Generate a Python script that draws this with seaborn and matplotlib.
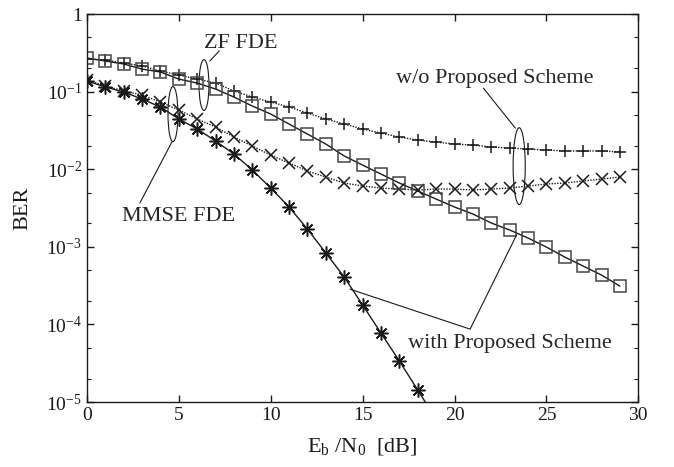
import numpy as np
import pandas as pd
import matplotlib
matplotlib.use("Agg")
import matplotlib.pyplot as plt
from matplotlib.patches import Ellipse
import seaborn as sns

# Eb/N0 [dB]
snr_zf = list(range(0, 30))
snr_mmse = list(range(0, 30))
snr_mmse_prop = list(range(0, 20))

# ZF FDE with proposed scheme (squares, solid)
ber_zf_prop = [0.271, 0.248, 0.227, 0.195, 0.179, 0.145, 0.129, 0.108, 0.0851, 0.0652,
               0.0514, 0.0382, 0.0284, 0.0211, 0.0148, 0.0113, 0.00867, 0.00664, 0.00524, 0.00413,
               0.00326, 0.00265, 0.00203, 0.00165, 0.00130, 0.000994, 0.000739, 0.000566, 0.000433, 0.000312]
# ZF FDE w/o proposed scheme (plus, dotted)
ber_zf = [0.263, 0.255, 0.234, 0.214, 0.184, 0.164, 0.145, 0.129, 0.102, 0.0851,
          0.0734, 0.0633, 0.0530, 0.0444, 0.0382, 0.0330, 0.0292, 0.0260, 0.0238, 0.0224,
          0.0211, 0.0205, 0.0193, 0.0188, 0.0182, 0.0177, 0.0172, 0.0172, 0.0172, 0.0167]
# MMSE FDE w/o proposed scheme (x, dotted)
ber_mmse = [0.141, 0.118, 0.102, 0.0904, 0.0734, 0.0579, 0.0444, 0.0350, 0.0260, 0.0199,
            0.0152, 0.0120, 0.00948, 0.00793, 0.00664, 0.00608, 0.00573, 0.00556, 0.00540, 0.00556,
            0.00556, 0.00540, 0.00556, 0.00573, 0.00608, 0.00645, 0.00664, 0.00705, 0.00748, 0.00793]
# MMSE FDE with proposed scheme (asterisk, solid)
ber_mmse_prop = [0.137, 0.115, 0.0988, 0.0803, 0.0633, 0.0444, 0.0330, 0.0231, 0.0157, 0.00977,
                 0.00573, 0.00326, 0.00169, 0.000832, 0.000408, 0.000178, 7.75e-5, 3.38e-5, 1.43e-5, 6.0e-6]

x_ticks = [0, 5, 10, 15, 20, 25, 30]
y_ticks = [1e-5, 1e-4, 1e-3, 1e-2, 1e-1, 1]
y_tick_labels = ["10$^{-5}$", "10$^{-4}$", "10$^{-3}$", "10$^{-2}$", "10$^{-1}$", "1"]

sns.set_theme(style="ticks")
plt.rcParams["font.family"] = ["Liberation Serif", "DejaVu Serif"]
plt.rcParams["mathtext.fontset"] = "custom"
plt.rcParams["mathtext.rm"] = "Liberation Serif"
plt.rcParams["mathtext.it"] = "Liberation Serif:italic"
plt.rcParams["mathtext.default"] = "regular"

fig = plt.figure(figsize=(6.74, 4.67), dpi=100)
ax = fig.add_axes([0.129, 0.139, 0.818, 0.831])

dotted = (0, (1, 1))
series = [
    (snr_zf, ber_zf, "+", dotted, 9, "k"),
    (snr_mmse, ber_mmse, "x", dotted, 8, "k"),
    (snr_zf, ber_zf_prop, "s", "-", 8, "#444444"),
    (snr_mmse_prop, ber_mmse_prop, (8, 2, 0), "-", 10, "k"),
]
for xs, ys, mk, ls, ms, mec in series:
    df = pd.DataFrame({"snr": xs, "ber": ys})
    sns.lineplot(data=df, x="snr", y="ber", ax=ax, color="k", linestyle=ls,
                 linewidth=1.0, marker=mk, markersize=ms, markerfacecolor="none",
                 markeredgecolor=mec, markeredgewidth=1.1, estimator=None)

ax.set_yscale("log")
ax.set_xlim(0, 30)
ax.set_ylim(1e-5, 1)
ax.set_xticks(x_ticks)
ax.set_yticks(y_ticks)
ax.set_yticklabels(y_tick_labels)
ax.yaxis.set_minor_locator(matplotlib.ticker.LogLocator(base=10, subs=[2, 5]))
ax.yaxis.set_minor_formatter(matplotlib.ticker.NullFormatter())
ax.tick_params(which="both", direction="in", top=True, right=True, labelsize=14,
               color="k", labelcolor="k")
ax.tick_params(which="major", length=5, width=1)
ax.tick_params(which="minor", length=3, width=0.8)
for sp in ax.spines.values():
    sp.set_linewidth(1.0)
    sp.set_color("k")

ax.set_xlabel(r"E$_{\rm b}$ /N$_0$  [dB]", fontsize=16, color="k", labelpad=9)
ax.set_ylabel("BER", fontsize=16, color="k", labelpad=10)

# annotations (axes fraction)
tr = ax.transAxes
for cx, cy, w, h in [(0.2123, 0.817, 0.018, 0.131), (0.156, 0.742, 0.018, 0.142),
                     (0.784, 0.608, 0.022, 0.198)]:
    ax.add_patch(Ellipse((cx, cy), w, h, transform=tr, fill=False, color="k", lw=0.8))
ax.plot([0.223, 0.240], [0.879, 0.905], color="k", lw=0.8, transform=tr)
ax.plot([0.154, 0.096], [0.670, 0.513], color="k", lw=0.8, transform=tr)
ax.plot([0.777, 0.719], [0.706, 0.809], color="k", lw=0.8, transform=tr)
ax.plot([0.477, 0.695, 0.779], [0.291, 0.188, 0.430], color="k", lw=0.8, transform=tr)

ax.text(0.279, 0.925, "ZF FDE", transform=tr, ha="center", va="center", fontsize=16)
ax.text(0.167, 0.479, "MMSE FDE", transform=tr, ha="center", va="center", fontsize=16)
ax.text(0.739, 0.835, "w/o Proposed Scheme", transform=tr, ha="center", va="center", fontsize=16)
ax.text(0.768, 0.152, "with Proposed Scheme", transform=tr, ha="center", va="center", fontsize=16)

fig.savefig("out.png", dpi=100)
